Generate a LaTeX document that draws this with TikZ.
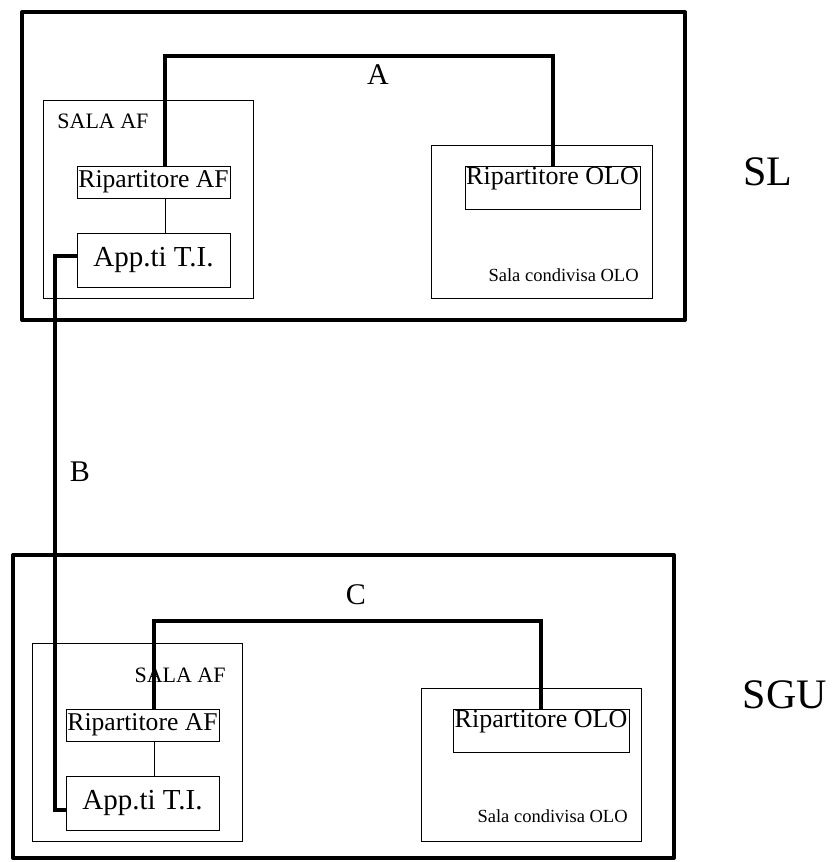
\documentclass[tikz,border=0pt]{standalone}
\usepackage{fontspec}
\setmainfont{Liberation Serif}

\begin{document}
\begin{tikzpicture}[x=0.5pt, y=-0.5pt,
  site/.style={draw, line width=2pt, line join=round, inner sep=0pt},
  room/.style={draw, line width=0.5pt, inner sep=0pt, minimum width=#1},
  unit/.style={draw, line width=0.5pt, inner sep=0pt, minimum width=76.5pt, minimum height=#1},
  olobox/.style={draw, line width=0.5pt, inner xsep=0pt, inner ysep=0.25pt, minimum width=87.5pt,
    text height=9pt, text depth=12pt, font=\fontsize{13}{15}\selectfont},
  cable/.style={line width=2pt},
  link/.style={line width=0.5pt},
  ripf/.style={font=\fontsize{12.8}{15}\selectfont},
  appf/.style={font=\fontsize{14.5}{17}\selectfont},
  tag/.style={inner sep=0pt, font=\fontsize{11}{13}\selectfont},
  small/.style={inner sep=0pt, font=\fontsize{9.25}{11}\selectfont},
  letterlab/.style={inner sep=0pt, font=\fontsize{15}{17}\selectfont},
  big/.style={inner sep=0pt, font=\fontsize{21}{24}\selectfont}]
  \useasboundingbox (0,0) rectangle (832,862);
  % SL
  \node[site, minimum width=331.5pt, minimum height=154pt] (sl) at (353.5,166) {};
  \node[room=105pt, minimum height=99pt] (slaf) at (148,199) {};
  \node[tag, anchor=west] (slaftag) at (57,121) {SALA AF};
  \node[unit=16pt, ripf] (slrip) at (153.5,182) {Ripartitore AF};
  \node[unit=27pt, appf] (slapp) at (153.5,260) {App.ti T.I.};
  \node[room=110.5pt, minimum height=76.5pt] (slolo) at (541.5,221.5) {};
  \node[small, anchor=east] (slolotag) at (639,275) {Sala condivisa OLO};
  \node[olobox] (slrolo) at (552.5,187.5) {Ripartitore OLO};
  \node[big] (sltag) at (768,172) {SL};
  \coordinate (slA) at (165,56);
  \draw[cable] (slA |- slrip.north) -- (slA) -| (slrolo.north);
  \draw[link] (slA |- slrip.south) -- (slA |- slapp.north);
  \node[letterlab] (tagA) at (378,75) {A};
  % SGU
  \node[site, minimum width=330.5pt, minimum height=151.5pt] (sgu) at (343.5,706.5) {};
  \node[room=105pt, minimum height=99pt] (sguaf) at (137,742) {};
  \node[tag, anchor=east] (sguaftag) at (226,675) {SALA AF};
  \node[unit=16pt, ripf] (sgurip) at (142.5,725) {Ripartitore AF};
  \node[unit=27pt, appf] (sguapp) at (142.5,803) {App.ti T.I.};
  \node[room=110pt, minimum height=76.5pt] (sguolo) at (531,764.5) {};
  \node[small, anchor=east] (sguolotag) at (628,816) {Sala condivisa OLO};
  \node[olobox, minimum width=88pt] (sgurolo) at (541,730.5) {Ripartitore OLO};
  \node[big] (sgutag) at (785,695) {SGU};
  \coordinate (sguC) at (154,621);
  \draw[cable] (sguC |- sgurip.north) -- (sguC) -| (sgurolo.north);
  \draw[link] (sguC |- sgurip.south) -- (sguC |- sguapp.north);
  \node[letterlab] (tagC) at (356,595) {C};
  % B
  \draw[cable] ([yshift=2pt]slapp.west) -- ++(-22,0) |- ([yshift=-3.5pt]sguapp.west);
  \node[letterlab] (tagB) at (80,472) {B};
\end{tikzpicture}
\end{document}
